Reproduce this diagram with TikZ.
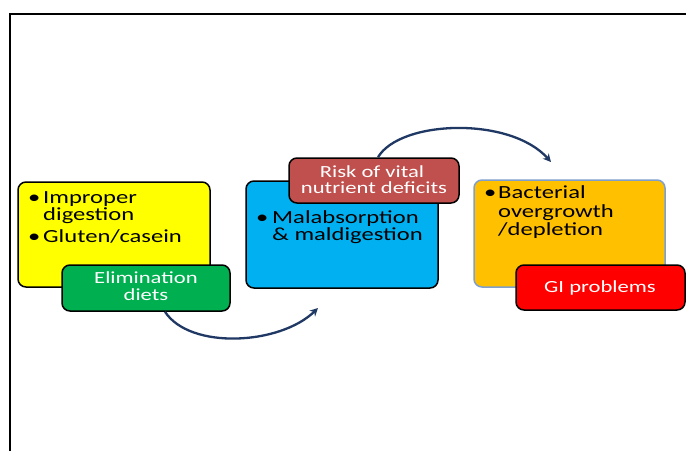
\documentclass[tikz,border=0pt]{standalone}
\usepackage{fontspec}
\setmainfont{Carlito}[FakeStretch=1.33]
\usetikzlibrary{arrows.meta}
\definecolor{cyel}{HTML}{FFFF00}
\definecolor{cgrn}{HTML}{00B050}
\definecolor{cblu}{HTML}{00B0F0}
\definecolor{crsk}{HTML}{C0504D}
\definecolor{corg}{HTML}{FFC000}
\definecolor{cred}{HTML}{FF0000}
\definecolor{corgline}{HTML}{7F9FCF}
\definecolor{navy}{HTML}{1F3864}
\begin{document}
\begin{tikzpicture}[x=1pt,y=-1pt,
  box/.style={draw=black, line width=1.5pt, rounded corners=8pt, inner sep=0pt},
  dark/.style={anchor=base west, inner sep=0pt, font=\fontsize{18.5}{18}\selectfont, text=black},
  light/.style={anchor=base, inner sep=0pt, font=\fontsize{17}{17}\selectfont, text=white},
  flow/.style={draw=navy, line width=2.3pt, -{Stealth[length=8pt,width=8pt]}}]
\useasboundingbox (0,0) rectangle (686,451);
\fill[white] (0,0) rectangle (686,451);
\draw[line width=2pt] (10,451) -- (10,14) -- (686,14);

% left group
\node[box, fill=cyel, minimum width=192pt, minimum height=105pt] (yel) at (114,234.5) {};
\node[dark] (y1b) at (28,203) {•};
\node[dark] (y1) at (43,203) {Improper};
\node[dark] (y2) at (43,220) {digestion};
\node[dark] (y3b) at (28,242) {•};
\node[dark] (y3) at (43,242) {Gluten/casein};
\node[box, fill=cgrn, minimum width=168pt, minimum height=46pt] (grn) at (146,288) {};
\node[light] (g1) at (146,283) {Elimination};
\node[light] (g2) at (146,300) {diets};

% middle group
\node[box, fill=cblu, minimum width=192pt, minimum height=107pt] (blu) at (342,234.5) {};
\node[dark] (b1b) at (256,223) {•};
\node[dark] (b1) at (272,223) {Malabsorption};
\node[dark] (b2) at (272,240) {\& maldigestion};
\node[box, fill=crsk, minimum width=170pt, minimum height=45pt] (rsk) at (374,180.5) {};
\node[light] (r1) at (372,177) {Risk of vital};
\node[light] (r2) at (374,193) {nutrient deficits};

% right group
\node[box, draw=corgline, fill=corg, minimum width=191pt, minimum height=107pt] (org) at (569.5,233.5) {};
\node[dark] (o1b) at (484,198) {•};
\node[dark] (o1) at (498,198) {Bacterial};
\node[dark] (o2) at (498,217) {overgrowth};
\node[dark] (o3) at (498,235) {/depletion};
\node[box, fill=cred, minimum width=169pt, minimum height=45pt] (red) at (600.5,287.5) {};
\node[light] (gi) at (600,292) {GI problems};

% arrows
\coordinate (e1) at (318,308);
\coordinate (e2) at (551,162);
\draw[flow] ([xshift=19pt]grn.south) .. controls (190,350) and (280,345) .. (e1);
\draw[flow] ([xshift=4pt]rsk.north) .. controls (400,120) and (510,116) .. (e2);
\end{tikzpicture}
\end{document}
